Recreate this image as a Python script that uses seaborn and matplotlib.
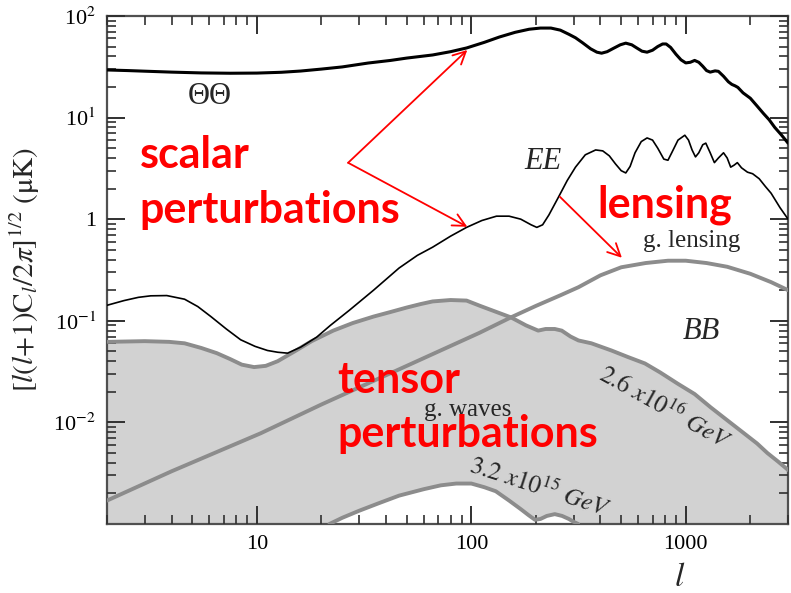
import matplotlib
matplotlib.use("Agg")
import matplotlib.pyplot as plt
from matplotlib.ticker import LogLocator, NullFormatter
import seaborn as sns
import pandas as pd

# --- CMB angular power spectra, [l(l+1)C_l/2pi]^(1/2) in microkelvin ---
tt_l = [2, 2.5, 3, 4, 5.5, 7.5, 10, 13, 16, 20, 25, 33, 42, 50, 66, 80, 95, 115,
        135, 160, 186, 210, 235, 260, 285, 306, 330, 360, 385, 405, 430, 460, 495,
        525, 560, 590, 625, 660, 700, 740, 780, 810, 850, 900, 950, 1000, 1050,
        1100, 1150, 1200, 1250, 1300, 1370, 1420, 1500, 1580, 1640, 1700, 1750,
        1850, 2000, 2150, 2300, 2450, 2600, 2800, 3000]
tt_v = [29.4, 29, 28.6, 28, 27.5, 27.3, 27.4, 27.9, 28.7, 30, 31.5, 34.4, 36.5,
        38.5, 41.3, 44.5, 48.4, 55, 62, 69, 74, 76, 76, 72.5, 66, 61, 54.5, 47.5,
        44, 43, 44.5, 48, 52, 54, 52, 48.5, 45, 44, 46, 50, 53, 53, 49, 42, 37,
        34.5, 35, 36.5, 35, 32, 29, 28, 28.8, 28.5, 25.5, 22.5, 21.2, 20.5, 19.8,
        17.5, 15.5, 13, 11, 9.5, 8, 6.7, 5.6]

ee_l = [2, 2.4, 2.8, 3.2, 3.8, 4.6, 5.3, 6.1, 7.2, 8.4, 9.8, 11.2, 12.5, 13.9, 16,
        19, 22, 27, 35, 46, 56, 66, 80, 95, 112, 131, 150, 170, 190, 202, 215, 230,
        255, 280, 306, 340, 380, 410, 440, 470, 500, 525, 550, 580, 620, 660, 700,
        740, 790, 826, 860, 920, 990, 1030, 1070, 1110, 1150, 1200, 1240, 1300,
        1360, 1420, 1500, 1560, 1620, 1680, 1740, 1820, 1940, 2050, 2200, 2350,
        2500, 2750, 3000]
ee_v = [0.142, 0.158, 0.17, 0.176, 0.177, 0.163, 0.138, 0.11, 0.083, 0.065, 0.056,
        0.051, 0.049, 0.048, 0.055, 0.069, 0.09, 0.127, 0.2, 0.33, 0.44, 0.53, 0.68,
        0.83, 0.97, 1.07, 1.07, 1.0, 0.88, 0.83, 0.88, 1.1, 1.65, 2.4, 3.25, 4.3,
        4.8, 4.7, 4.2, 3.5, 3.0, 2.85, 3.3, 4.5, 5.8, 6.3, 6.0, 5.0, 3.9, 3.8, 4.5,
        6.0, 6.7, 6.0, 4.8, 4.1, 4.5, 5.4, 5.6, 4.5, 3.6, 4.0, 4.5, 4.0, 3.25, 3.4,
        3.6, 3.2, 2.9, 2.8, 2.5, 2.1, 1.8, 1.3, 1.0]

lens_l = [2, 4, 10.4, 20, 50, 109, 153, 200, 260, 316, 400, 500, 650, 826, 1000,
          1250, 1560, 2000, 2500, 3000]
lens_v = [0.0017, 0.0033, 0.0078, 0.015, 0.036, 0.076, 0.108, 0.14, 0.178, 0.214,
          0.28, 0.336, 0.37, 0.39, 0.39, 0.37, 0.34, 0.29, 0.24, 0.2]

# gravitational waves, energy scale 2.6e16 GeV
gw_hi_l = [2, 3, 3.9, 4.6, 5.5, 6.5, 7.5, 8.5, 9.7, 11, 12.5, 15, 18, 22.7, 28, 35,
           42, 50, 58, 66, 80, 95, 110, 131, 153, 180, 205, 222, 245, 264, 290, 316,
           363, 450, 537, 645, 760, 918, 1100, 1310, 1560, 1870, 2150, 2400, 2700,
           3000]
gw_hi_v = [0.062, 0.063, 0.062, 0.06, 0.054, 0.048, 0.042, 0.037, 0.035, 0.036,
           0.04, 0.05, 0.063, 0.08, 0.095, 0.11, 0.122, 0.135, 0.146, 0.155, 0.16,
           0.158, 0.14, 0.122, 0.108, 0.09, 0.08, 0.083, 0.083, 0.08, 0.07, 0.064,
           0.06, 0.051, 0.044, 0.038, 0.031, 0.024, 0.019, 0.014, 0.0105, 0.0078,
           0.0062, 0.005, 0.0041, 0.0034]

# gravitational waves, energy scale 3.2e15 GeV
gw_lo_l = [21.8, 25, 30, 37, 46, 60, 72, 85, 100, 115, 130, 150, 170, 185, 198,
           210, 225, 245, 265, 285, 300, 315]
gw_lo_v = [0.001, 0.00115, 0.00135, 0.0016, 0.0019, 0.0022, 0.0024, 0.0025,
           0.0025, 0.0023, 0.0021, 0.0017, 0.0014, 0.00122, 0.0011, 0.00112,
           0.0012, 0.00125, 0.0012, 0.00112, 0.00105, 0.001]

x_ticks = [10, 100, 1000]
x_tick_labels = ["10", "100", "1000"]
y_ticks = [1e-2, 1e-1, 1, 10, 100]
y_tick_labels = ["10$^{-2}$", "10$^{-1}$", "1", "10$^{1}$", "10$^{2}$"]

sns.set_style("white")
plt.rcParams.update({
    "font.family": ["Liberation Serif", "DejaVu Serif"],
    "mathtext.fontset": "stix",
    "axes.axisbelow": False,
})

fig = plt.figure(figsize=(7.91, 5.93), dpi=100)
ax = fig.add_axes([0.1353, 0.1164, 0.861, 0.8567])
ax.set_xscale("log")
ax.set_yscale("log")

gray_line = "#8c8c8c"
gray_fill = "#d2d2d2"
y_floor = 1e-3

# shaded tensor region, white under the low-scale tensor curve
ax.fill_between(gw_hi_l, y_floor, gw_hi_v, color=gray_fill, linewidth=0, zorder=1)
ax.fill_between(gw_lo_l, y_floor, gw_lo_v, color="white", linewidth=0, zorder=1.1)

curves = pd.concat([
    pd.DataFrame({"l": gw_hi_l, "D": gw_hi_v, "spec": "gw_hi"}),
    pd.DataFrame({"l": gw_lo_l, "D": gw_lo_v, "spec": "gw_lo"}),
    pd.DataFrame({"l": lens_l, "D": lens_v, "spec": "lens"}),
    pd.DataFrame({"l": ee_l, "D": ee_v, "spec": "EE"}),
    pd.DataFrame({"l": tt_l, "D": tt_v, "spec": "TT"}),
])
styles = {"gw_hi": (gray_line, 2.8), "gw_lo": (gray_line, 2.8),
          "lens": (gray_line, 2.8), "EE": ("black", 1.2), "TT": ("black", 2.2)}
for name, sub in curves.groupby("spec", sort=False):
    c, lw = styles[name]
    sns.lineplot(data=sub, x="l", y="D", ax=ax, color=c, linewidth=lw,
                 estimator=None, sort=False, zorder=3)

ax.set_xlim(2, 3000)
ax.set_ylim(1e-3, 1e2)
ax.set_xticks(x_ticks)
ax.set_xticklabels(x_tick_labels)
ax.set_yticks(y_ticks)
ax.set_yticklabels(y_tick_labels)
for axis in (ax.xaxis, ax.yaxis):
    axis.set_minor_locator(LogLocator(base=10, subs=range(2, 10), numticks=20))
    axis.set_minor_formatter(NullFormatter())

# inward ticks on all four sides
ax.tick_params(which="both", direction="in", top=True, right=True, bottom=True,
               left=True, color="#303030", labelcolor="black", labelsize=16)
ax.tick_params(which="major", length=13, width=1.4, pad=8)
ax.tick_params(which="minor", length=6.5, width=1.2)

for s in ax.spines.values():
    s.set_visible(True)
    s.set_color("#505050")
    s.set_linewidth(1.6)

ax.set_xlabel("$l$", fontsize=24)
ax.xaxis.set_label_coords(0.841, -0.075)
ax.set_ylabel(r"$[l(l{+}1)\mathrm{C}_l/2\pi]^{1/2}\ (\mathrm{\mu K})$", fontsize=21,
              labelpad=8)

# curve labels
tr = ax.transAxes
ax.text(0.151, 0.841, "ΘΘ", transform=tr, fontsize=22, ha="center", va="center")
ax.text(0.640, 0.713, "EE", transform=tr, fontsize=22, style="italic", ha="center", va="center")
ax.text(0.859, 0.557, "g. lensing", transform=tr, fontsize=18, ha="center", va="center")
ax.text(0.872, 0.378, "BB", transform=tr, fontsize=22, style="italic", ha="center", va="center")
ax.text(0.530, 0.224, "g. waves", transform=tr, fontsize=18, ha="center", va="center")
ax.text(0.819, 0.228, r"$\mathit{2.6\ x10}^{\mathit{16}}\ \mathit{GeV}$", transform=tr,
        fontsize=18, rotation=-29, ha="center", va="center", rotation_mode="anchor")
ax.text(0.636, 0.071, r"$\mathit{3.2\ x10}^{\mathit{15}}\ \mathit{GeV}$", transform=tr,
        fontsize=18, rotation=-18, ha="center", va="center", rotation_mode="anchor")

# red annotations
red = "#ff0000"
rfont = dict(family=["Lato", "DejaVu Sans"], weight="bold", color=red, fontsize=31)
ax.text(0.048, 0.701, "scalar", transform=tr, ha="left", va="baseline", **rfont)
ax.text(0.048, 0.593, "perturbations", transform=tr, ha="left", va="baseline", **rfont)
ax.text(0.7195, 0.604, "lensing", transform=tr, ha="left", va="baseline", **rfont)
ax.text(0.338, 0.258, "tensor", transform=tr, ha="left", va="baseline", **rfont)
ax.text(0.338, 0.152, "perturbations", transform=tr, ha="left", va="baseline", **rfont)

arrow = dict(arrowstyle="->,head_length=0.9,head_width=0.45", color=red, lw=1.3,
             shrinkA=0, shrinkB=0)
for tip in [(0.529, 0.933), (0.529, 0.585)]:
    ax.annotate("", xy=tip, xycoords=tr, xytext=(0.354, 0.711), textcoords=tr,
                arrowprops=arrow)
ax.annotate("", xy=(0.756, 0.524), xycoords=tr, xytext=(0.665, 0.644),
            textcoords=tr, arrowprops=arrow)

fig.savefig("out.png", dpi=100)
